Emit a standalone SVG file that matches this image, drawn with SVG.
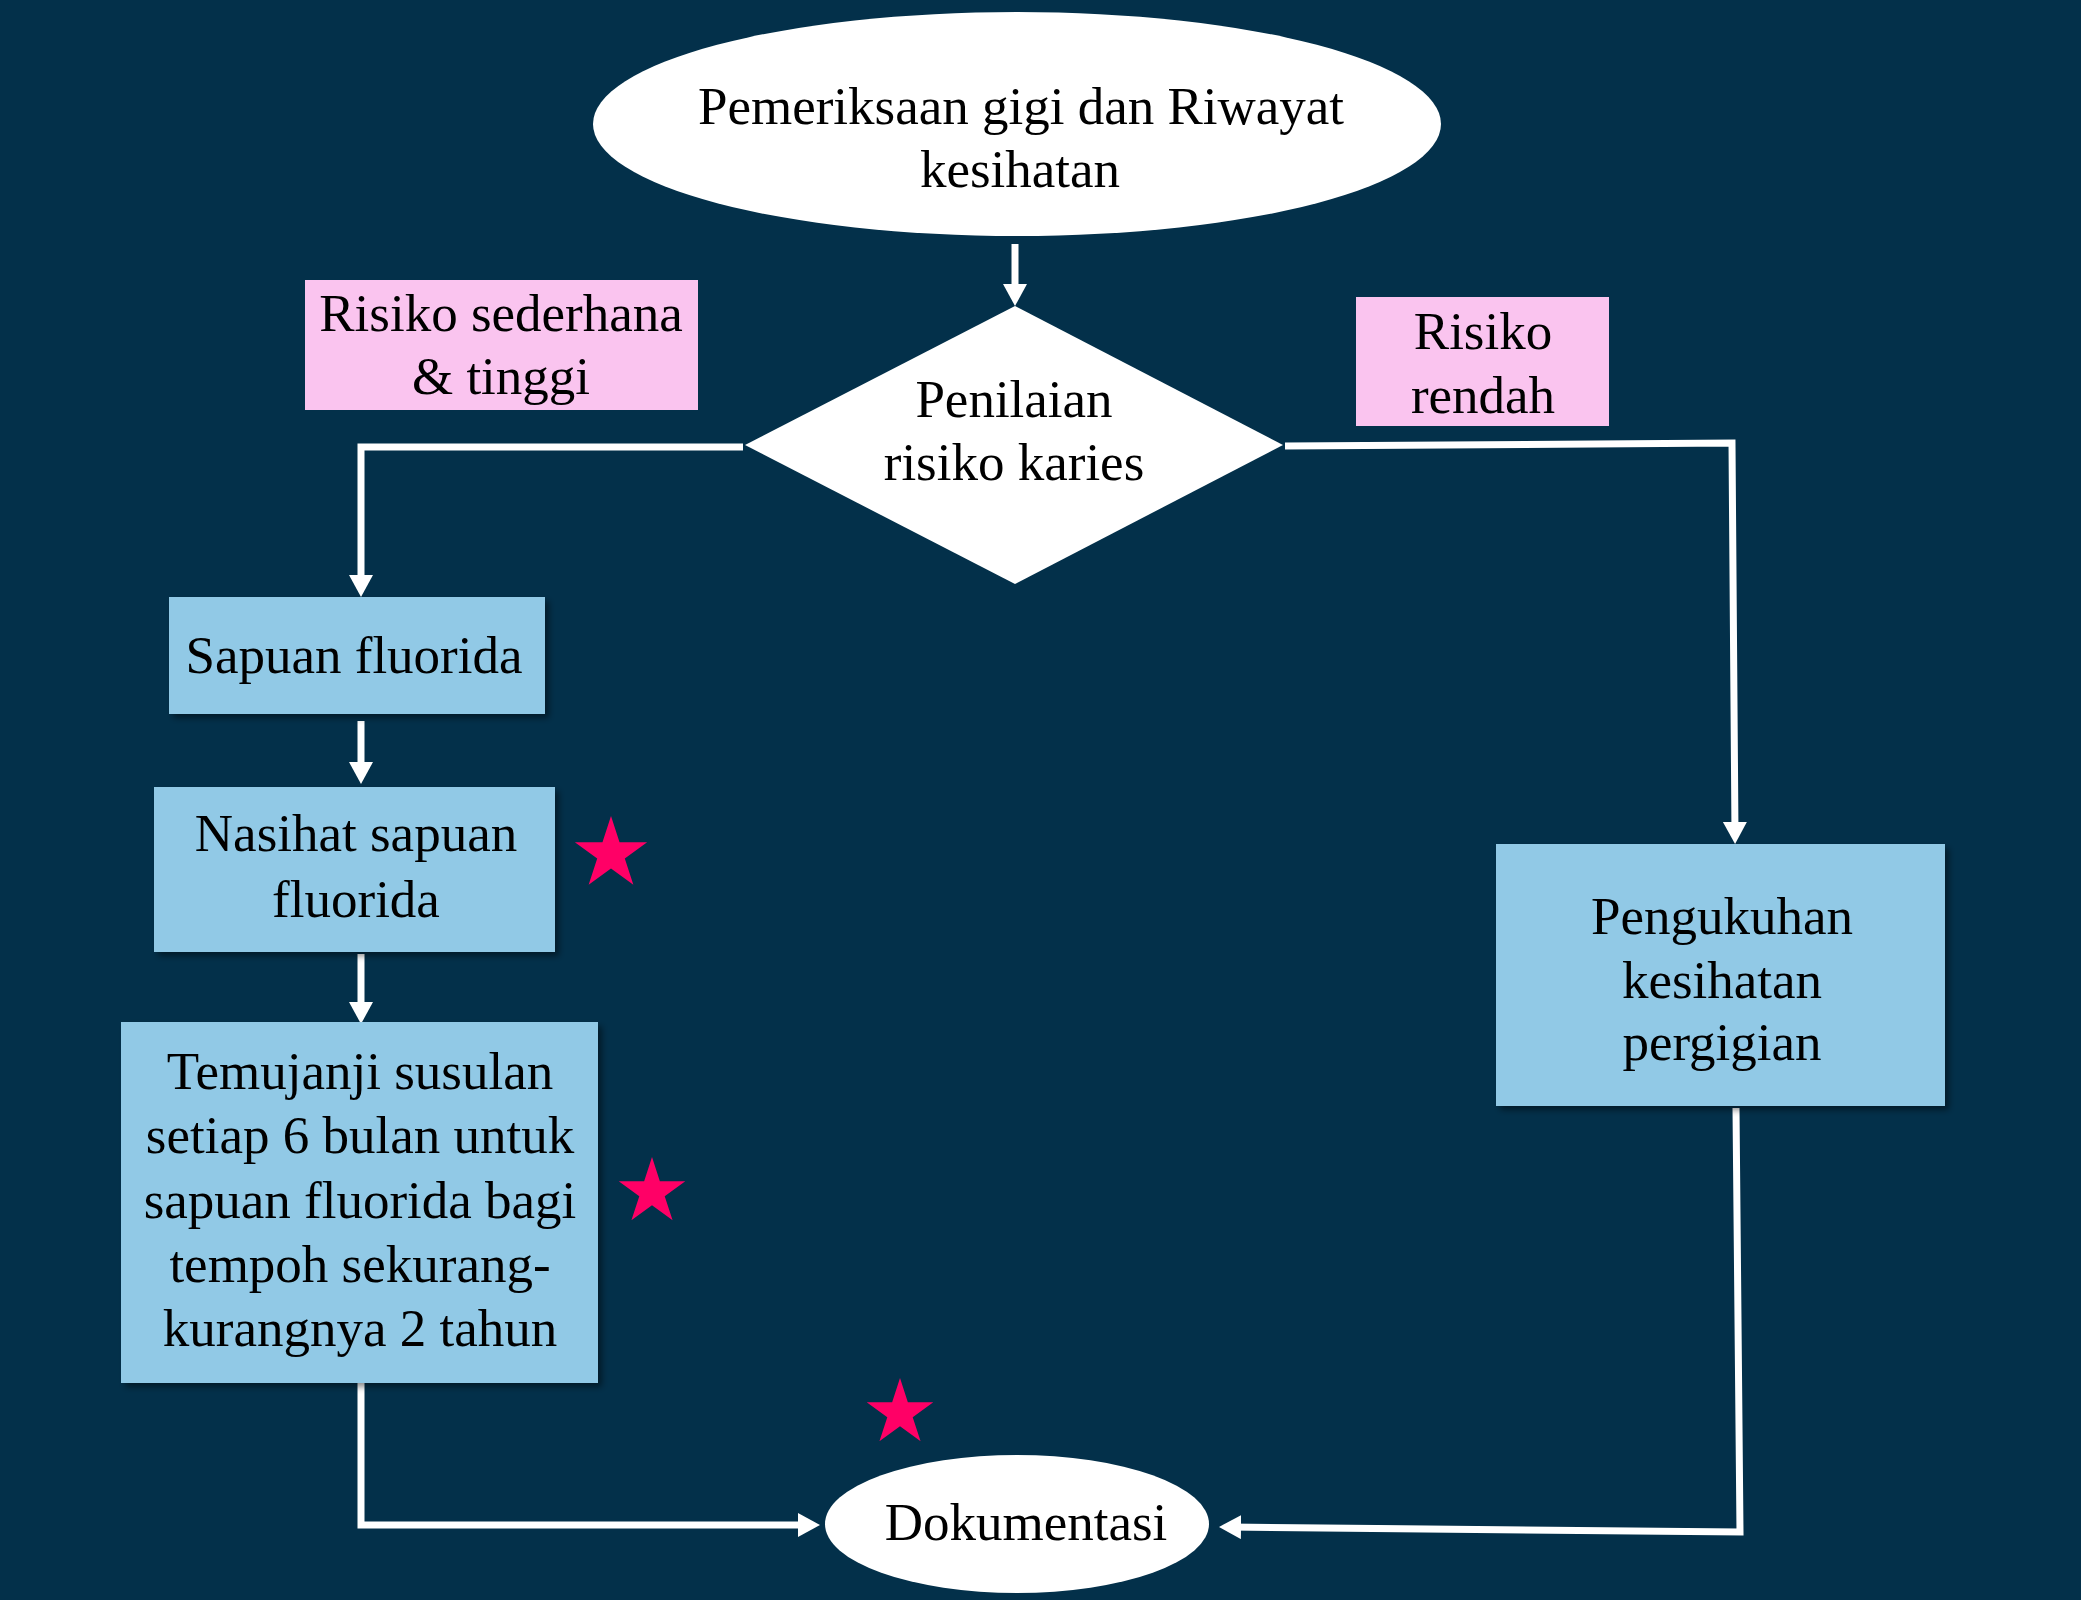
<svg xmlns="http://www.w3.org/2000/svg" xmlns:xlink="http://www.w3.org/1999/xlink" width="2081" height="1600" viewBox="0 0 2081 1600">
<style>
.t{font-family:"Liberation Serif","Times New Roman",serif;font-size:53px;fill:#000;text-anchor:middle}
.box{fill:#91C9E6}
.lbl{fill:#FAC4EF}
.wh{fill:#FFFFFF}
.con{fill:none;stroke:#FFFFFF;stroke-width:7}
.star{fill:#FF0066}
</style>
<defs>
<marker id="arr" markerUnits="userSpaceOnUse" markerWidth="26" markerHeight="26" refX="12" refY="12" orient="auto">
<path d="M0,0 L22,12 L0,24 Z" fill="#FFFFFF"/>
</marker>
<filter id="sh" x="-5%" y="-5%" width="115%" height="115%">
<feDropShadow dx="4" dy="4" stdDeviation="3" flood-color="#000" flood-opacity="0.45"/>
</filter>
<path id="star" d="M0,-1 L0.2245,-0.309 L0.951,-0.309 L0.363,0.118 L0.588,0.809 L0,0.382 L-0.588,0.809 L-0.363,0.118 L-0.951,-0.309 L-0.2245,-0.309 Z"/>
</defs>
<rect x="0" y="0" width="2081" height="1600" fill="#03304A"/>

<g id="connectors">
<path class="con" d="M1015,244 L1015,296" marker-end="url(#arr)"/>
<path class="con" d="M743,447 L361,447 L361,587" marker-end="url(#arr)"/>
<path class="con" d="M361,721 L361,774" marker-end="url(#arr)"/>
<path class="con" d="M361,954 L361,1014" marker-end="url(#arr)"/>
<path class="con" d="M361,1383 L361,1525 L810,1525" marker-end="url(#arr)"/>
<path class="con" d="M1285,446 L1732,443 L1735,834" marker-end="url(#arr)"/>
<path class="con" d="M1736,1108 L1740,1532 L1229,1527" marker-end="url(#arr)"/>
</g>

<g id="n-start">
<ellipse class="wh" cx="1017" cy="124" rx="424" ry="112"/>
<text class="t" x="1021" y="124">Pemeriksaan gigi dan Riwayat</text>
<text class="t" x="1020" y="187">kesihatan</text>
</g>

<g id="n-decision">
<polygon class="wh" points="1015,306 1283,445 1015,584 745,445"/>
<text class="t" x="1014" y="417">Penilaian</text>
<text class="t" x="1014" y="480">risiko karies</text>
</g>

<g id="lbl-high">
<rect class="lbl" x="305" y="280" width="393" height="130"/>
<text class="t" x="501" y="331">Risiko sederhana</text>
<text class="t" x="501" y="394">&amp; tinggi</text>
</g>

<g id="lbl-low">
<rect class="lbl" x="1356" y="297" width="253" height="129"/>
<text class="t" x="1483" y="349">Risiko</text>
<text class="t" x="1483" y="413">rendah</text>
</g>

<g id="n-sapuan">
<rect class="box" x="169" y="597" width="376" height="117" filter="url(#sh)"/>
<text class="t" x="354" y="673">Sapuan fluorida</text>
</g>

<g id="n-nasihat">
<rect class="box" x="154" y="787" width="401" height="165" filter="url(#sh)"/>
<text class="t" x="356" y="851">Nasihat sapuan</text>
<text class="t" x="356" y="917">fluorida</text>
</g>

<g id="n-temujanji">
<rect class="box" x="121" y="1022" width="477" height="361" filter="url(#sh)"/>
<text class="t" x="360" y="1089">Temujanji susulan</text>
<text class="t" x="360" y="1153">setiap 6 bulan untuk</text>
<text class="t" x="360" y="1218">sapuan fluorida bagi</text>
<text class="t" x="360" y="1282">tempoh sekurang-</text>
<text class="t" x="360" y="1346">kurangnya 2 tahun</text>
</g>

<g id="n-pengukuhan">
<rect class="box" x="1496" y="844" width="449" height="262" filter="url(#sh)"/>
<text class="t" x="1722" y="934">Pengukuhan</text>
<text class="t" x="1722" y="998">kesihatan</text>
<text class="t" x="1722" y="1060">pergigian</text>
</g>

<g id="n-dokumentasi">
<ellipse class="wh" cx="1017" cy="1524" rx="192" ry="69"/>
<text class="t" x="1026" y="1540">Dokumentasi</text>
</g>

<g id="stars">
<use xlink:href="#star" class="star" transform="translate(611,854) scale(38)"/>
<use xlink:href="#star" class="star" transform="translate(652,1192) scale(35)"/>
<use xlink:href="#star" class="star" transform="translate(900,1413) scale(35)"/>
</g>
</svg>
